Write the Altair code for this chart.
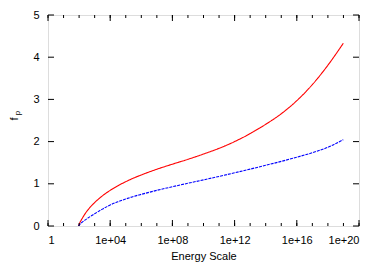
import altair as alt
import pandas as pd

# log10(Energy) and f_p
red_logE = [1.96, 2.05, 2.2, 2.5, 3.0, 3.5, 4, 4.5, 5, 5.5, 6, 7, 8, 9, 10, 11, 12, 13, 14, 15, 16, 17, 18, 18.99]
red_f = [0.0, 0.08, 0.18, 0.35, 0.555, 0.715, 0.845, 0.955, 1.05, 1.135, 1.21, 1.345, 1.465, 1.58, 1.705, 1.84, 2.00, 2.19, 2.41, 2.66, 2.97, 3.35, 3.81, 4.33]
blue_logE = [1.96, 2.05, 2.2, 2.5, 3.0, 3.5, 4, 4.5, 5, 5.5, 6, 7, 8, 9, 10, 11, 12, 13, 14, 15, 16, 17, 18, 18.99]
blue_f = [0.0, 0.04, 0.09, 0.17, 0.29, 0.40, 0.50, 0.575, 0.64, 0.70, 0.75, 0.845, 0.93, 1.013, 1.093, 1.175, 1.26, 1.348, 1.438, 1.531, 1.631, 1.736, 1.866, 2.046]
x_major = [0, 4, 8, 12, 16, 20]
x_minor = list(range(0, 21))
y_ticks = [0, 1, 2, 3, 4, 5]

W, H = 311, 211
FONT = "Liberation Sans"

df = pd.concat([
    pd.DataFrame({"E": [10.0 ** v for v in red_logE], "f": red_f, "s": "red"}),
    pd.DataFrame({"E": [10.0 ** v for v in blue_logE], "f": blue_f, "s": "blue"}),
])

xscale = alt.Scale(type="log", domain=[1, 1e20], nice=False)
yscale = alt.Scale(domain=[0, 5], nice=False, zero=False)

label_expr = ("datum.value < 2 ? '1' : '1e+' + (round(log(datum.value)/LN10) < 10 ? '0' : '') "
              "+ round(log(datum.value)/LN10)")

base_x = alt.X("E:Q", scale=xscale,
               axis=alt.Axis(values=[10.0 ** v for v in x_major], labelExpr=label_expr,
                             ticks=False, domain=False, grid=False, labelPadding=8,
                             labelFont=FONT, labelFontSize=11, labelColor="black",
                             title="Energy Scale", titleFont=FONT, titleFontSize=11,
                             titleFontWeight="normal", titleColor="black", titlePadding=5))
base_y = alt.Y("f:Q", scale=yscale,
               axis=alt.Axis(values=y_ticks, ticks=False, domain=False, grid=False,
                             labelPadding=9, labelFont=FONT, labelFontSize=11,
                             labelColor="black", title=""))

lines = alt.Chart(df).mark_line(strokeWidth=1.1, clip=True, interpolate="monotone").encode(
    x=base_x, y=base_y,
    color=alt.Color("s:N", scale=alt.Scale(domain=["red", "blue"], range=["#ff0000", "#0000ff"]), legend=None),
    strokeDash=alt.StrokeDash("s:N", scale=alt.Scale(domain=["red", "blue"], range=[[1, 0], [3, 1]]), legend=None),
)

xmaj = pd.DataFrame({"E": [10.0 ** v for v in x_major]})
xmin = pd.DataFrame({"E": [10.0 ** v for v in x_minor]})
ydf = pd.DataFrame({"f": y_ticks})

def xt(d, y0, y1):
    return alt.Chart(d).mark_rule(color="black", strokeWidth=1).encode(
        x=alt.X("E:Q", scale=xscale), y=alt.value(y0), y2=alt.value(y1))

def yt(x0, x1):
    return alt.Chart(ydf).mark_rule(color="black", strokeWidth=1).encode(
        y=alt.Y("f:Q", scale=yscale), x=alt.value(x0), x2=alt.value(x1))

ticks = [xt(xmaj, H, H - 6), xt(xmaj, 0, 6), xt(xmin, H, H - 3), xt(xmin, 0, 3),
         yt(0, 6), yt(W, W - 6)]

ftitle = alt.Chart(ydf.head(1)).mark_text(text="f", font=FONT, fontSize=11, angle=270,
                                          color="black").encode(x=alt.value(-33), y=alt.value(104))
ptitle = alt.Chart(ydf.head(1)).mark_text(text="p", font=FONT, fontSize=8, angle=270,
                                          color="black").encode(x=alt.value(-30), y=alt.value(98))

chart = alt.layer(lines, *ticks, ftitle, ptitle).properties(
    width=W, height=H,
    autosize=alt.AutoSizeParams(type="none"),
    padding={"left": 40, "top": 7, "right": 15, "bottom": 40},
).configure_view(stroke="black", strokeWidth=1.5).configure(background="white")

chart.save("out.html", embed_options={"renderer": "svg", "actions": False})
